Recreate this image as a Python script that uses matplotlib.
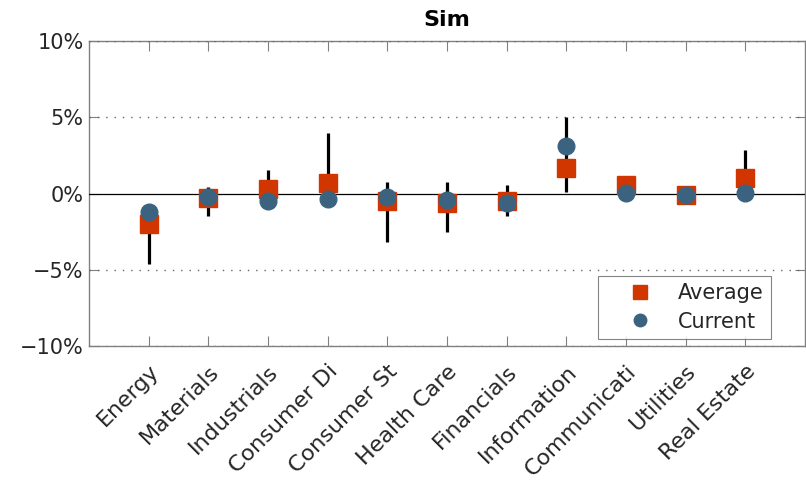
import matplotlib
matplotlib.use('Agg')
import matplotlib.pyplot as plt
import numpy as np
from matplotlib.ticker import FuncFormatter

# sector labels (truncated as in the source)
sectors = ['Energy', 'Materials', 'Industrials', 'Consumer Di', 'Consumer St',
           'Health Care', 'Financials', 'Information', 'Communicati',
           'Utilities', 'Real Estate']

# values in percent
average = [-2.0, -0.3, 0.3, 0.72, -0.46, -0.6, -0.46, 1.67, 0.53, -0.07, 1.0]
current = [-1.2, -0.25, -0.5, -0.35, -0.24, -0.4, -0.64, 3.14, 0.05, -0.08, 0.02]
range_lo = [-4.6, -1.5, -0.4, -0.2, -3.2, -2.5, -1.5, 0.07, 0.1, -0.2, 0.1]
range_hi = [-1.5, 0.4, 1.55, 4.0, 0.74, 0.74, 0.53, 5.0, 0.7, 0.1, 2.83]

# colours
red = '#d23600'
blue = '#3b6380'
axcol = '#808080'
txtcol = '#262626'

fig = plt.figure(figsize=(8.06, 4.86), dpi=100)
ax = fig.add_axes([89/806, 140/486, 716/806, 305/486])

x = np.arange(1, len(sectors) + 1)

# range bars behind markers
ax.vlines(x, range_lo, range_hi, color='k', linewidth=2.3, zorder=3)

# zero line (over the tick marks)
ax.axhline(0, color='k', linewidth=0.9, zorder=2.8)

ax.plot(x, average, linestyle='none', marker='s', markersize=12.5,
        color=red, label='Average', zorder=4)
ax.plot(x, current, linestyle='none', marker='o', markersize=12,
        color=blue, label='Current', zorder=5)

ax.set_xlim(0, 12)
ax.set_ylim(-10, 10)
ax.set_xticks(x)
ax.set_xticklabels(sectors, rotation=45, ha='right', rotation_mode='anchor',
                   fontsize=16, color=txtcol)
ax.set_yticks([-10, -5, 0, 5, 10])
ax.yaxis.set_major_formatter(FuncFormatter(lambda v, p: ('%d%%' % v).replace('-', '\u2212')))
for lab in ax.get_yticklabels():
    lab.set_fontsize(15)
    lab.set_color(txtcol)

# dotted horizontal grid
for yv in [-10, -5, 5, 10]:
    ax.axhline(yv, color='#666666', linestyle=(0, (1, 5)), linewidth=1.0, zorder=2.9)

ax.tick_params(axis='x', direction='in', length=7, width=0.8, color=axcol,
               top=True, bottom=True, pad=11)
ax.tick_params(axis='y', direction='in', length=7, width=0.8, color=axcol,
               left=True, right=True, pad=4)
for s in ax.spines.values():
    s.set_color(axcol)
    s.set_linewidth(1.0)

ax.set_title('Sim', fontsize=16, fontweight='bold', color='k', pad=11)

leg = ax.legend(loc='lower right', bbox_to_anchor=(0.9525, 0.023),
                borderaxespad=0, fontsize=15, frameon=True, fancybox=False,
                edgecolor='#666666', handletextpad=0.1, borderpad=0.35,
                labelspacing=0.4, handlelength=3.4, markerscale=0.75)
leg.get_frame().set_linewidth(0.8)
for t in leg.get_texts():
    t.set_color(txtcol)

fig.savefig('out.png', dpi=100)
